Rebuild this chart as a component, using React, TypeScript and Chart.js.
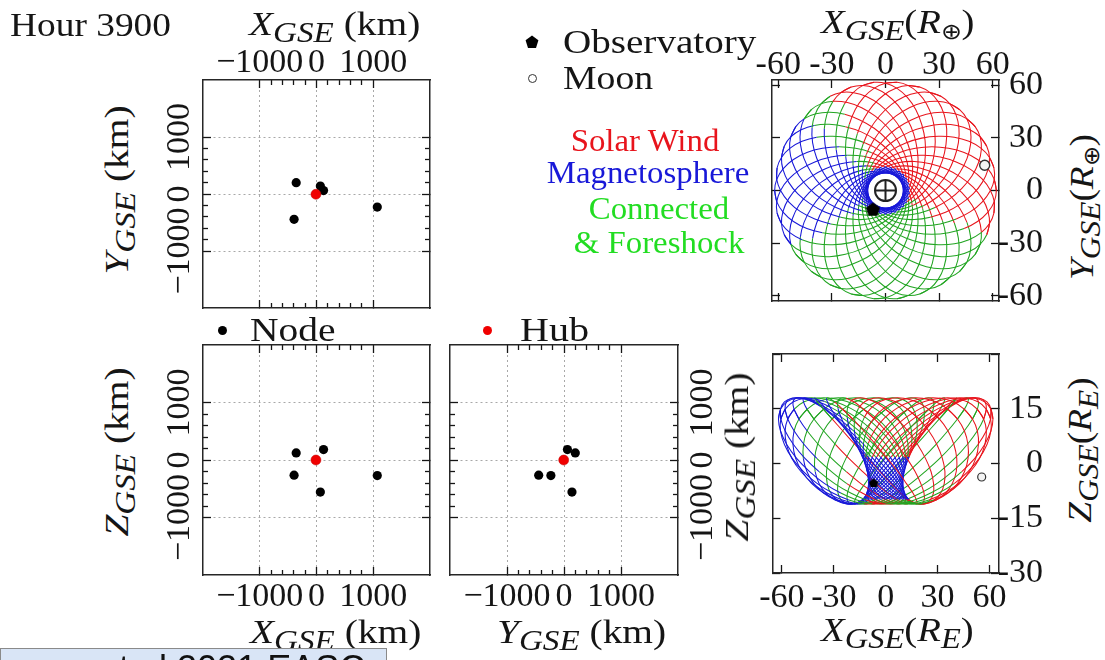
import React, { useEffect, useRef } from "react";
import { Chart, registerables } from "chart.js";
Chart.register(...registerables);

// ---------------- data ----------------
// Constellation (km, GSE, relative to hub)
const NODE_X = [-358, 124, -395, 68, 1071];
const NODE_Y = [198, 60, -444, 140, -230];
const NODE_Z = [123, 181, -264, -558, -270];
const HUB_X = [-10];
const HUB_Y = [-5];
const HUB_Z = [0];

const KM_MAJOR = [-1000, 0, 1000];
const KM_MAJOR_LABELS = ["\u22121000", "0", "1000"];
const KM_MINOR = [-800, -600, -400, -200, 200, 400, 600, 800];

const RE_X_TICKS = [-60, -30, 0, 30, 60];
const RE_X_LABELS = ["-60", "-30", "0", "30", "60"];
const RE_Y_TICKS = [-60, -30, 0, 30, 60];
const RE_Y_LABELS = ["-60", "-30", "0", "30", "60"];
const RE_Z_TICKS = [-30, -15, 0, 15, 30];
const RE_Z_LABELS = ["-30", "-15", "0", "15", ""];

// One orbit loop (Earth radii) with apogee along +X
const ORBIT_X0 = [62, 60.8, 57.2, 51.5, 44, 35.3, 26, 16.7, 8, 0.5, -5.2, -8.8, -10, -8.8, -5.2, 0.5, 8, 16.7, 26, 35.3, 44, 51.5, 57.2, 60.8];
const ORBIT_Y0 = [0, 6.5, 12.5, 17.7, 21.7, 24.1, 25, 24.1, 21.7, 17.7, 12.5, 6.5, 0, -6.5, -12.5, -17.7, -21.7, -24.1, -25, -24.1, -21.7, -17.7, -12.5, -6.5];
// out-of-ecliptic height along the loop (unchanged as the loop turns in GSE)
const ORBIT_Z0 = [12.2, 14.9, 16.9, 17.9, 17.9, 17.0, 15.1, 12.5, 9.2, 5.6, 1.8, -1.9, -5.2, -8.0, -9.9, -10.9, -11.0, -10.0, -8.1, -5.5, -2.2, 1.4, 5.2, 8.9];
// apogee direction of each loop in GSE (degrees)
const APOGEE_DEG = [0, 12, 24, 36, 48, 60, 72, 84, 96, 108, 120, 132, 144, 156, 168, 180, 192, 204, 216, 228, 240, 252, 264, 276, 288, 300, 312, 324, 336, 348];

const OBSERVATORY_XYZ = [-7, -10.5, -5.2];
const MOON_XYZ = [55.5, 14.4, -3.7];
const EARTH_XY = [0, 0];

// ---------------- style ----------------
const SERIF = "'Liberation Serif', 'Times New Roman', serif";
const TICK_FONT = { family: SERIF, size: 34, lineHeight: 1 };
const INK = "#151515";
const FRAME = "#262626";
const GRID = "#a8a8a8";
const RED = "#e8141c";
const BLUE = "#1818d8";
const GREEN = "#22a522";
const GREEN_TXT = "#22dd22";

function regionColor(x: number, y: number) {
  const r = Math.hypot(x, y);
  const a = (Math.atan2(y, x) * 180) / Math.PI;
  if (r < 15) return BLUE;
  if (a >= 138 || a <= -148) return BLUE;
  if (a >= 118 || a <= -25) return GREEN;
  return RED;
}

function segColor(ctx: any) {
  const d = ctx.chart.data.datasets[ctx.datasetIndex].data;
  const a = d[ctx.p0DataIndex];
  const b = d[ctx.p1DataIndex];
  return regionColor((a.gx + b.gx) / 2, (a.gy + b.gy) / 2);
}

type AxisSpec = {
  side: "top" | "bottom" | "left" | "right";
  min: number;
  max: number;
  ticks: number[];
  labels?: string[];
  tickLen: number;
  size: number;
  weight: number;
  grid?: boolean;
  rotated?: boolean;
  padding?: number;
  crossAlign?: "near" | "center" | "far";
  border?: boolean;
};

function axis(a: AxisSpec) {
  const horiz = a.side === "top" || a.side === "bottom";
  const rot = a.rotated ? 90 : 0;
  return {
    type: "linear",
    position: a.side,
    min: a.min,
    max: a.max,
    weight: a.weight,
    offset: false,
    afterBuildTicks: (s: any) => {
      s.ticks = a.ticks.map((v) => ({ value: v }));
    },
    afterFit: (s: any) => {
      if (horiz) s.height = a.size;
      else s.width = a.size;
    },
    ticks: {
      display: !!a.labels,
      autoSkip: false,
      minRotation: rot,
      maxRotation: rot,
      font: TICK_FONT,
      color: INK,
      padding: a.padding ?? 0,
      crossAlign: a.crossAlign ?? "near",
      callback: (_v: any, i: number) => (a.labels ? a.labels[i] : ""),
    },
    grid: {
      display: true,
      drawOnChartArea: !!a.grid,
      drawTicks: true,
      tickLength: -a.tickLen,
      color: GRID,
      lineWidth: 1,
      tickColor: INK,
      tickWidth: 1.3,
      tickBorderDash: [],
    },
    border: { display: a.border !== false, color: FRAME, width: 1.5, dash: a.grid ? [2, 3] : [] },
  };
}

function measure(text: string) {
  const g = document.createElement("canvas").getContext("2d")!;
  g.font = `normal 34px ${SERIF}`;
  return g.measureText(text).width;
}

function pentagon(size: number) {
  const c = document.createElement("canvas");
  c.width = size;
  c.height = size;
  const g = c.getContext("2d")!;
  g.fillStyle = "#000";
  g.beginPath();
  for (let k = 0; k < 5; k++) {
    const an = -Math.PI / 2 + (k * 2 * Math.PI) / 5;
    const px = size / 2 + (size / 2) * Math.cos(an);
    const py = size / 2 + 1 + (size / 2) * Math.sin(an);
    if (k === 0) g.moveTo(px, py);
    else g.lineTo(px, py);
  }
  g.closePath();
  g.fill();
  return c;
}

type Box = { x: number; y: number; w: number; h: number };
type Sizes = { l: number; t: number; r: number; b: number };
const frameBox = (L: number, T: number, R: number, B: number, s: Sizes): Box => ({
  x: L - s.l,
  y: T - s.t,
  w: R - L + s.l + s.r,
  h: B - T + s.t + s.b,
});

// ---------------- km panels ----------------
function kmScales(s: Sizes, lab: { top?: boolean; bottom?: boolean; left?: boolean; right?: boolean }) {
  const W = measure(KM_MAJOR_LABELS[0]);
  const lim = { min: -2000, max: 2000 };
  return {
    x: axis({ side: "bottom", ...lim, ticks: KM_MAJOR, labels: lab.bottom ? KM_MAJOR_LABELS : undefined, tickLen: 8, size: s.b, weight: 1, grid: true, padding: 13 }),
    xm: axis({ side: "bottom", ...lim, ticks: KM_MINOR, tickLen: 5, size: 0, weight: 0, border: false }),
    xt: axis({ side: "top", ...lim, ticks: KM_MAJOR, labels: lab.top ? KM_MAJOR_LABELS : undefined, tickLen: 8, size: s.t, weight: 1, padding: 8 }),
    xtm: axis({ side: "top", ...lim, ticks: KM_MINOR, tickLen: 5, size: 0, weight: 0, border: false }),
    y: axis({ side: "left", ...lim, ticks: KM_MAJOR, labels: lab.left ? KM_MAJOR_LABELS : undefined, tickLen: 8, size: s.l, weight: 1, grid: true, rotated: true, crossAlign: "center", padding: 31 - W / 2 }),
    ym: axis({ side: "left", ...lim, ticks: KM_MINOR, tickLen: 5, size: 0, weight: 0, border: false }),
    yr: axis({ side: "right", ...lim, ticks: KM_MAJOR, labels: lab.right ? KM_MAJOR_LABELS : undefined, tickLen: 8, size: s.r, weight: 1, rotated: true, crossAlign: "center", padding: 33 - W / 2 }),
    yrm: axis({ side: "right", ...lim, ticks: KM_MINOR, tickLen: 5, size: 0, weight: 0, border: false }),
  };
}

function kmDatasets(hx: number[], hy: number[], nx: number[], ny: number[]) {
  return [
    {
      data: hx.map((v, i) => ({ x: v, y: hy[i] })),
      showLine: false,
      pointRadius: 5,
      pointBackgroundColor: "#f00000",
      pointBorderColor: "#c00000",
      pointBorderWidth: 0.5,
      order: 0,
      xAxisID: "x",
      yAxisID: "y",
    },
    {
      data: nx.map((v, i) => ({ x: v, y: ny[i] })),
      showLine: false,
      pointRadius: 4.6,
      pointBackgroundColor: "#000",
      pointBorderColor: "#000",
      pointBorderWidth: 0,
      order: 1,
      xAxisID: "x",
      yAxisID: "y",
    },
  ];
}

// ---------------- Re panels ----------------
function loopPoints(deg: number) {
  const c = Math.cos((deg * Math.PI) / 180);
  const s = Math.sin((deg * Math.PI) / 180);
  const idx = [...ORBIT_X0.map((_, i) => i), 0, 1];
  return idx.map((i) => ({
    X: ORBIT_X0[i] * c - ORBIT_Y0[i] * s,
    Y: ORBIT_X0[i] * s + ORBIT_Y0[i] * c,
    Z: ORBIT_Z0[i],
  }));
}

function loopDatasets(plane: "xy" | "xz") {
  return APOGEE_DEG.map((deg) => ({
    data: loopPoints(deg).map((p) => ({ x: p.X, y: plane === "xy" ? p.Y : p.Z, gx: p.X, gy: p.Y })),
    showLine: true,
    borderWidth: 1.05,
    tension: 0.35,
    pointRadius: 0,
    fill: false,
    borderColor: RED,
    segment: { borderColor: segColor },
    order: 2,
    xAxisID: "x",
    yAxisID: "y",
  }));
}

function reScales(s: Sizes, xl: { min: number; max: number }, yl: { min: number; max: number }, yTicks: number[], yLabels: string[], xLabelsTop: boolean) {
  return {
    x: axis({ side: "bottom", ...xl, ticks: RE_X_TICKS, labels: xLabelsTop ? undefined : RE_X_LABELS, tickLen: 8, size: s.b, weight: 1, padding: 16 }),
    xt: axis({ side: "top", ...xl, ticks: RE_X_TICKS, labels: xLabelsTop ? RE_X_LABELS : undefined, tickLen: 8, size: s.t, weight: 1, padding: 6 }),
    y: axis({ side: "left", ...yl, ticks: yTicks, tickLen: 8, size: s.l, weight: 1 }),
    yr: axis({ side: "right", ...yl, ticks: yTicks, labels: yLabels, tickLen: 8, size: s.r, weight: 1, crossAlign: "far", padding: 0 }),
  };
}

function baseOptions(scales: any) {
  return {
    responsive: false,
    animation: false,
    events: [],
    layout: { padding: 0 },
    plugins: { legend: { display: false }, tooltip: { enabled: false } },
    scales,
  };
}

// ---------------- panel definitions ----------------
const S1: Sizes = { l: 60, t: 50, r: 10, b: 10 };
const S2: Sizes = { l: 60, t: 10, r: 10, b: 50 };
const S3: Sizes = { l: 10, t: 10, r: 60, b: 50 };
const S4: Sizes = { l: 30, t: 50, r: 44, b: 10 };
const S5: Sizes = { l: 30, t: 10, r: 44, b: 50 };

const PANELS: { box: Box; build: () => any }[] = [
  {
    box: frameBox(203, 80, 430, 308, S1),
    build: () => ({
      type: "line",
      data: { datasets: kmDatasets(HUB_X, HUB_Y, NODE_X, NODE_Y) },
      options: baseOptions(kmScales(S1, { top: true, left: true })),
    }),
  },
  {
    box: frameBox(203, 345, 430, 575, S2),
    build: () => ({
      type: "line",
      data: { datasets: kmDatasets(HUB_X, HUB_Z, NODE_X, NODE_Z) },
      options: baseOptions(kmScales(S2, { bottom: true, left: true })),
    }),
  },
  {
    box: frameBox(450, 345, 678, 575, S3),
    build: () => ({
      type: "line",
      data: { datasets: kmDatasets(HUB_Y, HUB_Z, NODE_Y, NODE_Z) },
      options: baseOptions(kmScales(S3, { bottom: true, right: true })),
    }),
  },
  {
    box: frameBox(772, 80, 999, 308, S4),
    build: () => ({
      type: "line",
      data: {
        datasets: [
          { data: [{ x: EARTH_XY[0], y: EARTH_XY[1] }], showLine: false, pointStyle: "circle", pointRadius: 10.5, pointBorderWidth: 2, pointBorderColor: "#222", pointBackgroundColor: "rgba(255,255,255,0)", order: 0, xAxisID: "x", yAxisID: "y" },
          { data: [{ x: EARTH_XY[0], y: EARTH_XY[1] }], showLine: false, pointStyle: "cross", pointRadius: 10.5, pointBorderWidth: 2, pointBorderColor: "#222", order: 0, xAxisID: "x", yAxisID: "y" },
          { data: [{ x: OBSERVATORY_XYZ[0], y: OBSERVATORY_XYZ[1] }], showLine: false, pointStyle: pentagon(15), pointRadius: 7, order: 0, xAxisID: "x", yAxisID: "y" },
          { data: [{ x: MOON_XYZ[0], y: MOON_XYZ[1] }], showLine: false, pointStyle: "circle", pointRadius: 5, pointBorderWidth: 1.4, pointBorderColor: "#333", pointBackgroundColor: "#f4f4f4", order: 0, xAxisID: "x", yAxisID: "y" },
          ...loopDatasets("xy"),
        ],
      },
      options: baseOptions(reScales(S4, { min: -63.5, max: 63.5 }, { min: -63, max: 63 }, RE_Y_TICKS, RE_Y_LABELS, true)),
    }),
  },
  {
    box: frameBox(772, 347, 999, 573, S5),
    build: () => ({
      type: "line",
      data: {
        datasets: [
          { data: [{ x: OBSERVATORY_XYZ[0], y: OBSERVATORY_XYZ[2] }], showLine: false, pointStyle: pentagon(10), pointRadius: 5, order: 0, xAxisID: "x", yAxisID: "y" },
          { data: [{ x: MOON_XYZ[0], y: MOON_XYZ[2] }], showLine: false, pointStyle: "circle", pointRadius: 4, pointBorderWidth: 1.2, pointBorderColor: "#333", pointBackgroundColor: "#f4f4f4", order: 0, xAxisID: "x", yAxisID: "y" },
          ...loopDatasets("xz"),
        ],
      },
      options: baseOptions(reScales(S5, { min: -65.5, max: 65.5 }, { min: -30, max: 30 }, RE_Z_TICKS, RE_Z_LABELS, false)),
    }),
  },
];

function ChartCanvas({ box, build }: { box: Box; build: () => any }) {
  const ref = useRef<HTMLCanvasElement>(null);
  useEffect(() => {
    const chart = new Chart(ref.current as HTMLCanvasElement, build());
    return () => chart.destroy();
  }, []);
  return (
    <canvas
      ref={ref}
      width={box.w}
      height={box.h}
      style={{ position: "absolute", left: box.x, top: box.y, width: box.w, height: box.h }}
    />
  );
}

// ---------------- text helpers ----------------
const SUB: React.CSSProperties = { fontSize: "0.84em", fontStyle: "italic", verticalAlign: "-0.26em", lineHeight: 0 };

function Gse({ a, unit }: { a: string; unit: "km" | "Rearth" | "RE" }) {
  return (
    <span style={{ whiteSpace: "nowrap" }}>
      <i>{a}</i>
      <sub style={SUB}>GSE</sub>
      {unit === "km" && <span>&nbsp;(km)</span>}
      {unit === "Rearth" && (
        <span>
          (<i>R</i>
          <sub style={{ ...SUB, fontStyle: "normal", fontSize: "0.66em" }}>{"\u2295"}</sub>)
        </span>
      )}
      {unit === "RE" && (
        <span>
          (<i>R</i>
          <sub style={SUB}>E</sub>)
        </span>
      )}
    </span>
  );
}

const txt = (left: number, top: number, sx = 1.14): React.CSSProperties => ({
  position: "absolute",
  left,
  top,
  fontSize: 34,
  lineHeight: 1,
  whiteSpace: "nowrap",
  transform: `scaleX(${sx})`,
  transformOrigin: "0 0",
});

const rot = (cx: number, cy: number, sx = 1.16): React.CSSProperties => ({
  position: "absolute",
  left: cx,
  top: cy,
  fontSize: 34,
  lineHeight: 1,
  whiteSpace: "nowrap",
  transform: `translate(-50%, -50%) rotate(-90deg) scaleX(${sx})`,
});

const centered = (cx: number, top: number, color: string): React.CSSProperties => ({
  position: "absolute",
  left: cx,
  top,
  fontSize: 31,
  lineHeight: 1,
  whiteSpace: "nowrap",
  color,
  transform: "translateX(-50%) scaleX(1.06)",
});

const dot = (cx: number, cy: number, d: number, color: string): React.CSSProperties => ({
  position: "absolute",
  left: cx - d / 2,
  top: cy - d / 2,
  width: d,
  height: d,
  borderRadius: "50%",
  background: color,
});

export default function App() {
  return (
    <div
      style={{
        position: "fixed",
        left: 0,
        top: 0,
        width: 1105,
        height: 660,
        overflow: "hidden",
        background: "#fff",
        fontFamily: SERIF,
        color: INK,
      }}
    >
      {PANELS.map((p, i) => (
        <ChartCanvas key={i} box={p.box} build={p.build} />
      ))}

      <div style={txt(10, 8, 1.1)}>Hour 3900</div>
      <div style={txt(249, 7, 1.16)}>
        <Gse a="X" unit="km" />
      </div>
      <div style={txt(821, 5, 1.14)}>
        <Gse a="X" unit="Rearth" />
      </div>

      {/* observatory / moon legend */}
      <svg style={{ position: "absolute", left: 525, top: 35 }} width={14} height={14} viewBox="0 0 14 14">
        <polygon points="7,0.5 13.4,5.2 11,13 3,13 0.6,5.2" fill="#000" />
      </svg>
      <div style={txt(563, 25, 1.15)}>Observatory</div>
      <div style={{ ...dot(532, 78, 9, "#fff"), border: "1.3px solid #333", boxSizing: "border-box" }} />
      <div style={txt(563, 61, 1.11)}>Moon</div>

      {/* region legend */}
      <div style={centered(645, 125, RED)}>Solar Wind</div>
      <div style={centered(648, 157, BLUE)}>Magnetosphere</div>
      <div style={centered(659, 193, GREEN_TXT)}>Connected</div>
      <div style={centered(659, 227, GREEN_TXT)}>&amp; Foreshock</div>

      {/* node / hub legend */}
      <div style={dot(222, 330, 9, "#000")} />
      <div style={txt(250, 313, 1.16)}>Node</div>
      <div style={dot(487, 330, 9, "#f00000")} />
      <div style={txt(520, 313, 1.18)}>Hub</div>

      {/* rotated axis titles */}
      <div style={rot(117, 190)}>
        <Gse a="Y" unit="km" />
      </div>
      <div style={rot(117, 452)}>
        <Gse a="Z" unit="km" />
      </div>
      <div style={rot(737, 457)}>
        <Gse a="Z" unit="km" />
      </div>
      <div style={rot(1082, 207, 1.1)}>
        <Gse a="Y" unit="Rearth" />
      </div>
      <div style={rot(1080, 450, 1.1)}>
        <Gse a="Z" unit="RE" />
      </div>

      {/* bottom axis titles */}
      <div style={txt(250, 615, 1.16)}>
        <Gse a="X" unit="km" />
      </div>
      <div style={txt(497, 615, 1.16)}>
        <Gse a="Y" unit="km" />
      </div>
      <div style={txt(821, 613, 1.14)}>
        <Gse a="X" unit="RE" />
      </div>

      {/* citation box (cut off at the bottom edge) */}
      <div
        style={{
          position: "absolute",
          left: 0,
          top: 648,
          width: 385,
          height: 40,
          background: "#d9e5f6",
          border: "1px solid #8a8a8a",
          overflow: "hidden",
        }}
      >
        <div style={{ position: "absolute", left: 26, top: 2, fontFamily: "'Liberation Sans', Arial, sans-serif", fontSize: 36, lineHeight: 1, whiteSpace: "nowrap", color: "#111" }}>
          mer et al 2021 EASC
        </div>
      </div>
    </div>
  );
}
